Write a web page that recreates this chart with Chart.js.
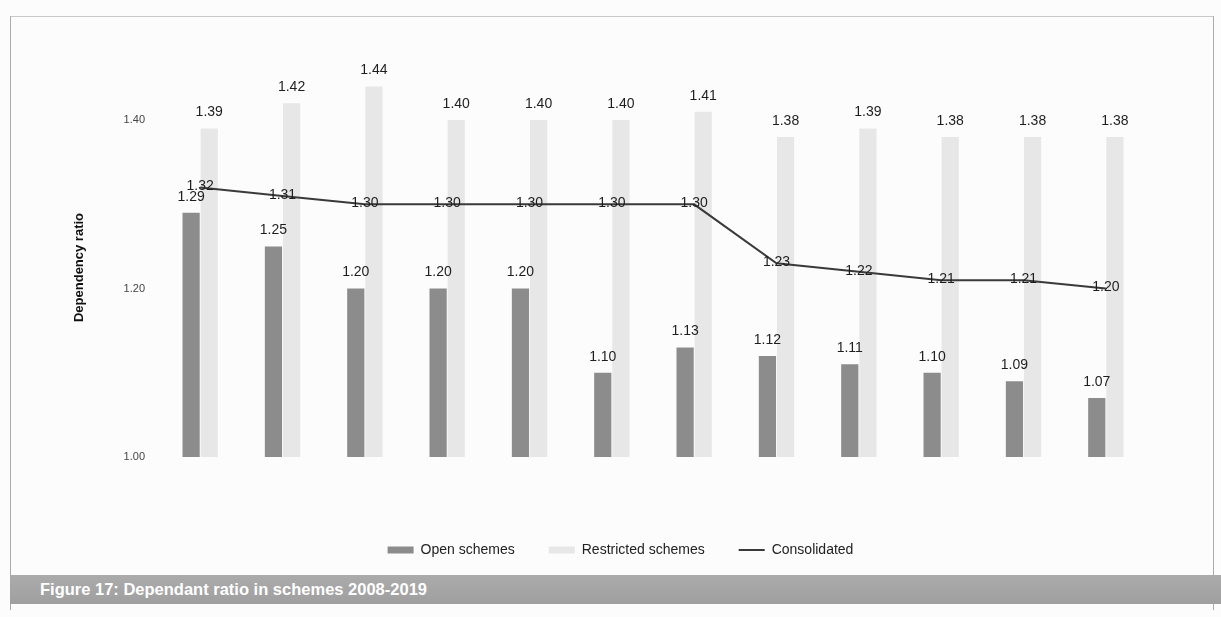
<!DOCTYPE html>
<html><head><meta charset="utf-8">
<script src="https://cdn.jsdelivr.net/npm/chart.js@4/dist/chart.umd.min.js"></script>
<style>
html,body{margin:0;padding:0;background:#fcfcfc;}
#wrap{position:relative;width:1221px;height:617px;overflow:hidden;background:#fcfcfc;}
#frame{position:absolute;left:10px;top:16px;width:1202px;height:593px;border-left:1px solid #aaa;border-right:1px solid #aaa;border-top:1px solid #c8c8c8;}
#banner{position:absolute;left:10px;top:575px;width:1211px;height:29px;background:linear-gradient(#ababab,#9f9f9f);color:#fff;font:bold 16.5px 'Liberation Sans Narrow','Liberation Sans',Arial,sans-serif;line-height:29px;padding-left:30px;box-sizing:border-box;}
canvas{position:absolute;left:0;top:0;}
</style></head>
<body><div id="wrap"><div id="frame"></div><canvas id="c" width="1221" height="617"></canvas><div id="banner">Figure 17: Dependant ratio in schemes 2008-2019</div></div>
<script>
const years = ['2008','2009','2010','2011','2012','2013','2014','2015','2016','2017','2018','2019'];
const openSchemes = [1.29, 1.25, 1.20, 1.20, 1.20, 1.10, 1.13, 1.12, 1.11, 1.10, 1.09, 1.07];
const restrictedSchemes = [1.39, 1.42, 1.44, 1.40, 1.40, 1.40, 1.41, 1.38, 1.39, 1.38, 1.38, 1.38];
const consolidated = [1.32, 1.31, 1.30, 1.30, 1.30, 1.30, 1.30, 1.23, 1.22, 1.21, 1.21, 1.20];
const yTicks = [1.00, 1.20, 1.40];

const FONT = "'Liberation Sans', Arial, sans-serif";

const valueLabels = {
  id: 'valueLabels',
  afterDatasetsDraw(chart) {
    const ctx = chart.ctx;
    ctx.save();
    ctx.font = '14px ' + FONT;
    ctx.fillStyle = '#1e1e1e';
    ctx.textAlign = 'center';
    chart.data.datasets.forEach((ds, di) => {
      const meta = chart.getDatasetMeta(di);
      meta.data.forEach((el, i) => {
        const txt = ds.data[i].toFixed(2);
        if (ds.type === 'line') {
          ctx.textBaseline = 'middle';
          ctx.fillText(txt, el.x, el.y - 1);
        } else {
          ctx.textBaseline = 'bottom';
          ctx.fillText(txt, el.x, el.y - 9);
        }
      });
    });
    ctx.restore();
  }
};

new Chart(document.getElementById('c'), {
  data: {
    labels: years,
    datasets: [
      { type: 'bar', label: 'Open schemes', data: openSchemes, backgroundColor: '#8c8c8c', borderWidth: 0, order: 1,
        categoryPercentage: 0.44, barPercentage: 0.95 },
      { type: 'bar', label: 'Restricted schemes', data: restrictedSchemes, backgroundColor: '#e7e7e7', borderWidth: 0, order: 1,
        categoryPercentage: 0.44, barPercentage: 0.95 },
      { type: 'line', label: 'Consolidated', data: consolidated, borderColor: '#3a3a3a', backgroundColor: '#3a3a3a',
        borderWidth: 2, pointRadius: 0, tension: 0, order: 0 }
    ]
  },
  options: {
    responsive: false,
    animation: false,
    devicePixelRatio: 1,
    layout: { padding: { left: 94, right: 74, top: 78, bottom: 50 } },
    scales: {
      x: {
        grid: { display: false, drawTicks: false },
        border: { display: false },
        ticks: { display: false },
        afterFit: s => { s.height = 52; }
      },
      y: {
        min: 1.0, max: 1.45,
        grid: { display: false, drawTicks: false },
        border: { display: false },
        afterBuildTicks: s => { s.ticks = yTicks.map(v => ({ value: v })); },
        afterFit: s => { s.width = 65; },
        ticks: { padding: 14, color: '#444', font: { size: 11, family: FONT }, callback: v => Number(v).toFixed(2) },
        title: { display: true, text: 'Dependency ratio', color: '#111', font: { size: 13, weight: 'bold', family: FONT }, padding: { top: -22, bottom: 0 } }
      }
    },
    plugins: {
      tooltip: { enabled: false },
      legend: {
        position: 'bottom',
        labels: {
          color: '#222',
          font: { size: 14, family: FONT },
          usePointStyle: true,
          pointStyleWidth: 26,
          boxHeight: 7,
          padding: 34,
          sort: (a, b) => a.datasetIndex - b.datasetIndex,
          generateLabels: chart => {
            const items = Chart.defaults.plugins.legend.labels.generateLabels(chart);
            return items.map(it => {
              const ds = chart.data.datasets[it.datasetIndex];
              if (ds.type === 'line') {
                it.pointStyle = 'line'; it.strokeStyle = ds.borderColor; it.lineWidth = 2;
              } else {
                it.pointStyle = 'rect'; it.lineWidth = 0; it.fillStyle = ds.backgroundColor; it.strokeStyle = ds.backgroundColor;
              }
              return it;
            });
          }
        }
      }
    }
  },
  plugins: [valueLabels]
});
</script>
</body></html>
